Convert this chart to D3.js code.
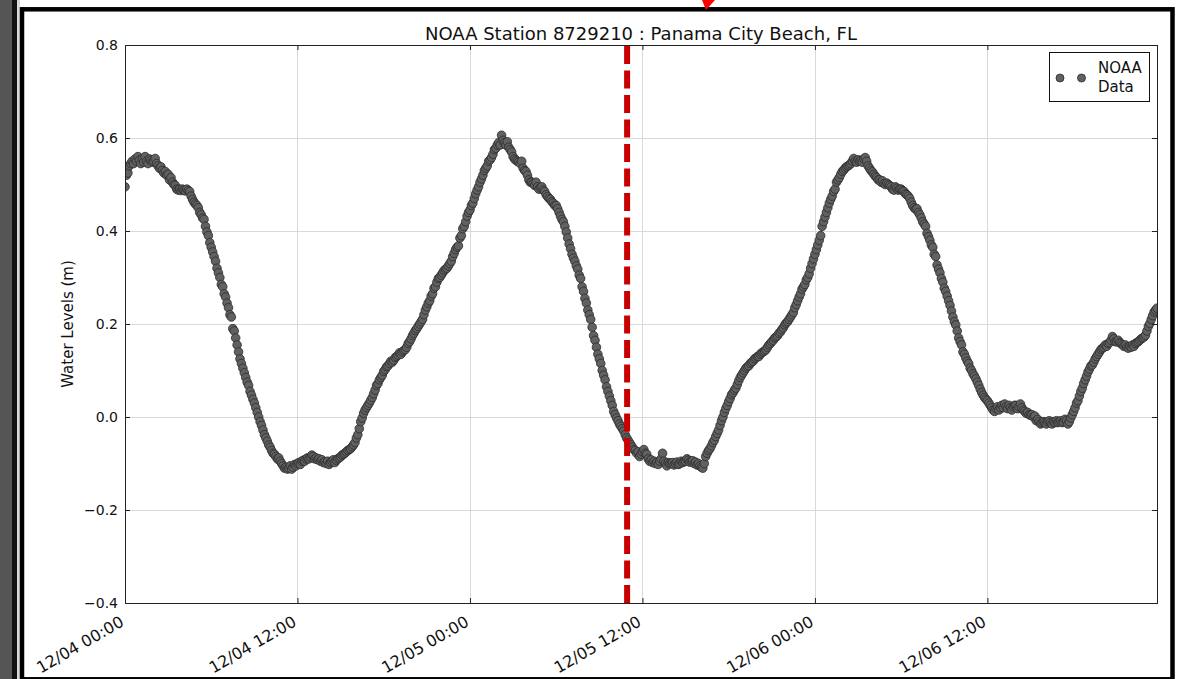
<!DOCTYPE html>
<html>
<head>
<meta charset="utf-8">
<script src="https://d3js.org/d3.v7.min.js"></script>
<style>
  body { margin: 0; background: #fff; }
  svg { display: block; font-family: "DejaVu Sans", sans-serif; }
</style>
</head>
<body>
<svg id="chart"></svg>
<script>
var title = "NOAA Station 8729210 : Panama City Beach, FL";
var yLabel = "Water Levels (m)";
var legendLines = ["NOAA", "Data"];

var startTime = new Date(2016, 11, 4, 0, 0);
var stepMinutes = 6;
var markerTime = new Date(2016, 11, 5, 10, 56);

var xTickTimes = [
  new Date(2016, 11, 4, 0), new Date(2016, 11, 4, 12),
  new Date(2016, 11, 5, 0), new Date(2016, 11, 5, 12),
  new Date(2016, 11, 6, 0), new Date(2016, 11, 6, 12)
];
var xTickLabels = ["12/04 00:00", "12/04 12:00", "12/05 00:00", "12/05 12:00", "12/06 00:00", "12/06 12:00"];
var yTicks = [-0.4, -0.2, 0.0, 0.2, 0.4, 0.6, 0.8];

// 6-minute water levels (m), one row per hour
var waterLevels = [
  0.495, 0.52, 0.525, 0.54, 0.545, 0.55, 0.545, 0.555, 0.55, 0.56,
  0.552, 0.545, 0.555, 0.548, 0.56, 0.55, 0.545, 0.555, 0.552, 0.548,
  0.55, 0.556, 0.545, 0.54, 0.535, 0.538, 0.53, 0.525, 0.528, 0.52,
  0.522, 0.51, 0.515, 0.505, 0.50, 0.498, 0.49, 0.488, 0.49, 0.487,
  0.49, 0.488, 0.486, 0.49, 0.487, 0.485, 0.475, 0.468, 0.462, 0.458,
  0.455, 0.45, 0.44, 0.435, 0.428, 0.425, 0.41, 0.398, 0.39, 0.375,
  0.365, 0.355, 0.345, 0.335, 0.32, 0.31, 0.30, 0.285, 0.28, 0.265,
  0.258, 0.245, 0.235, 0.22, 0.215, 0.19, 0.185, 0.17, 0.155, 0.14,
  0.125, 0.115, 0.105, 0.095, 0.085, 0.075, 0.068, 0.055, 0.047, 0.038,
  0.03, 0.02, 0.01, 0.0, -0.01, -0.018, -0.028, -0.038, -0.045, -0.052,
  -0.06, -0.065, -0.072, -0.078, -0.08, -0.085, -0.09, -0.088, -0.095, -0.10,
  -0.105, -0.11, -0.108, -0.112, -0.11, -0.105, -0.112, -0.108, -0.102, -0.105,
  -0.10, -0.098, -0.102, -0.095, -0.093, -0.095, -0.09, -0.088, -0.09, -0.086,
  -0.082, -0.085, -0.09, -0.088, -0.092, -0.09, -0.095, -0.092, -0.098, -0.096,
  -0.10, -0.095, -0.102, -0.098, -0.095, -0.092, -0.098, -0.093, -0.09, -0.088,
  -0.086, -0.082, -0.08, -0.078, -0.075, -0.072, -0.07, -0.068, -0.064, -0.06,
  -0.055, -0.045, -0.038, -0.025, -0.01, -0.002, 0.008, 0.015, 0.02, 0.025,
  0.03, 0.036, 0.042, 0.05, 0.058, 0.068, 0.072, 0.08, 0.085, 0.09,
  0.098, 0.102, 0.108, 0.11, 0.115, 0.12, 0.118, 0.122, 0.128, 0.13,
  0.133, 0.138, 0.135, 0.14, 0.143, 0.145, 0.15, 0.158, 0.162, 0.168,
  0.175, 0.18, 0.186, 0.19, 0.195, 0.2, 0.205, 0.21, 0.22, 0.23,
  0.237, 0.245, 0.25, 0.26, 0.265, 0.277, 0.28, 0.29, 0.298, 0.30,
  0.305, 0.31, 0.315, 0.318, 0.32, 0.325, 0.33, 0.335, 0.345, 0.352,
  0.36, 0.365, 0.368, 0.385, 0.39, 0.405, 0.41, 0.42, 0.432, 0.44,
  0.445, 0.455, 0.46, 0.47, 0.48, 0.488, 0.495, 0.505, 0.512, 0.52,
  0.53, 0.535, 0.54, 0.55, 0.553, 0.558, 0.565, 0.575, 0.578, 0.585,
  0.59, 0.585, 0.606, 0.595, 0.59, 0.585, 0.592, 0.58, 0.575, 0.57,
  0.56, 0.555, 0.552, 0.55, 0.548, 0.545, 0.55, 0.535, 0.53, 0.528,
  0.52, 0.51, 0.505, 0.505, 0.502, 0.498, 0.505, 0.495, 0.49, 0.493,
  0.495, 0.488, 0.485, 0.478, 0.474, 0.47, 0.468, 0.463, 0.46, 0.455,
  0.455, 0.448, 0.44, 0.432, 0.425, 0.42, 0.41, 0.398, 0.385, 0.372,
  0.362, 0.35, 0.342, 0.335, 0.325, 0.318, 0.305, 0.298, 0.28, 0.27,
  0.255, 0.245, 0.23, 0.22, 0.21, 0.193, 0.175, 0.165, 0.15, 0.135,
  0.125, 0.115, 0.10, 0.09, 0.08, 0.065, 0.055, 0.045, 0.035, 0.025,
  0.012, 0.005, -0.002, -0.008, -0.015, -0.02, -0.025, -0.03, -0.038, -0.045,
  -0.05, -0.055, -0.06, -0.065, -0.07, -0.072, -0.078, -0.075, -0.085, -0.08,
  -0.075, -0.07, -0.078, -0.08, -0.09, -0.095, -0.092, -0.098, -0.095, -0.10,
  -0.097, -0.102, -0.095, -0.09, -0.078, -0.095, -0.10, -0.105, -0.098, -0.10,
  -0.10, -0.098, -0.103, -0.10, -0.097, -0.102, -0.10, -0.095, -0.098, -0.096,
  -0.095, -0.09, -0.093, -0.097, -0.095, -0.094, -0.10, -0.097, -0.103, -0.10,
  -0.105, -0.108, -0.11, -0.10, -0.085, -0.078, -0.072, -0.068, -0.062, -0.055,
  -0.05, -0.042, -0.035, -0.028, -0.018, -0.008, 0.0, 0.01, 0.018, 0.025,
  0.033, 0.04, 0.048, 0.052, 0.058, 0.062, 0.07, 0.078, 0.085, 0.09,
  0.095, 0.10, 0.105, 0.108, 0.11, 0.115, 0.118, 0.12, 0.125, 0.127,
  0.13, 0.13, 0.135, 0.138, 0.14, 0.142, 0.145, 0.15, 0.155, 0.158,
  0.162, 0.165, 0.17, 0.172, 0.175, 0.18, 0.183, 0.188, 0.192, 0.198,
  0.202, 0.205, 0.21, 0.215, 0.22, 0.225, 0.235, 0.242, 0.25, 0.258,
  0.265, 0.275, 0.28, 0.285, 0.295, 0.30, 0.308, 0.32, 0.33, 0.34,
  0.35, 0.36, 0.37, 0.38, 0.39, 0.41, 0.42, 0.43, 0.44, 0.45,
  0.46, 0.468, 0.475, 0.485, 0.49, 0.505, 0.51, 0.515, 0.522, 0.528,
  0.531, 0.535, 0.538, 0.54, 0.542, 0.545, 0.55, 0.556, 0.55, 0.548,
  0.553, 0.55, 0.552, 0.548, 0.555, 0.558, 0.55, 0.54, 0.535, 0.53,
  0.527, 0.522, 0.518, 0.515, 0.51, 0.51, 0.505, 0.508, 0.502, 0.50,
  0.503, 0.50, 0.498, 0.495, 0.49, 0.488, 0.495, 0.492, 0.488, 0.49,
  0.49, 0.487, 0.485, 0.48, 0.478, 0.475, 0.47, 0.462, 0.455, 0.45,
  0.447, 0.448, 0.44, 0.435, 0.428, 0.42, 0.415, 0.41, 0.395, 0.388,
  0.38, 0.37, 0.365, 0.35, 0.345, 0.327, 0.318, 0.31, 0.298, 0.29,
  0.277, 0.27, 0.26, 0.25, 0.24, 0.228, 0.215, 0.205, 0.198, 0.185,
  0.17, 0.162, 0.155, 0.14, 0.135, 0.127, 0.12, 0.115, 0.105, 0.10,
  0.093, 0.088, 0.082, 0.075, 0.068, 0.06, 0.053, 0.047, 0.042, 0.038,
  0.035, 0.03, 0.025, 0.02, 0.015, 0.012, 0.018, 0.022, 0.015, 0.02,
  0.025, 0.02, 0.028, 0.022, 0.018, 0.025, 0.02, 0.015, 0.022, 0.025,
  0.025, 0.018, 0.022, 0.028, 0.02, 0.015, 0.012, 0.008, 0.01, 0.005,
  0.004, 0.005, 0.0, 0.002, -0.008, -0.005, -0.01, -0.015, -0.012, -0.01,
  -0.012, -0.015, -0.01, -0.008, -0.012, -0.015, -0.01, -0.012, -0.008, -0.012,
  -0.01, -0.008, -0.012, -0.01, -0.005, -0.008, -0.015, -0.01, -0.002, 0.005,
  0.012, 0.02, 0.03, 0.035, 0.045, 0.055, 0.062, 0.072, 0.08, 0.088,
  0.097, 0.103, 0.11, 0.112, 0.118, 0.125, 0.13, 0.135, 0.14, 0.145,
  0.148, 0.15, 0.155, 0.152, 0.158, 0.16, 0.165, 0.173, 0.168, 0.162,
  0.162, 0.165, 0.16, 0.158, 0.155, 0.152, 0.155, 0.15, 0.148, 0.152,
  0.15, 0.155, 0.152, 0.158, 0.16, 0.162, 0.165, 0.168, 0.17, 0.172,
  0.176, 0.185, 0.195, 0.201, 0.21, 0.218, 0.226, 0.23, 0.234
];

var data = waterLevels.map(function (v, i) {
  return { time: d3.timeMinute.offset(startTime, i * stepMinutes), level: v };
});

var W = 1189, H = 679;
var margin = { top: 45, right: 32, bottom: 76, left: 125 };
var width = W - margin.left - margin.right,
    height = H - margin.top - margin.bottom;

var svg = d3.select("#chart")
    .attr("width", W)
    .attr("height", H);

// scanned-page surroundings
svg.append("rect").attr("x", 0).attr("y", 0).attr("width", 12).attr("height", H).attr("fill", "#555");
svg.append("rect").attr("x", 12).attr("y", 0).attr("width", 5).attr("height", H).attr("fill", "#111");
svg.append("rect").attr("x", 17).attr("y", 0).attr("width", 3).attr("height", H).attr("fill", "#d8d8d8");
svg.append("rect")
    .attr("x", 22).attr("y", 9.3)
    .attr("width", 1150.5).attr("height", 670)
    .attr("fill", "#fff")
    .attr("stroke", "#000")
    .attr("stroke-width", 4.5);
svg.append("path")
    .attr("d", "M702,0 L715,0 L706,10 Z")
    .attr("fill", "#f00");

var x = d3.scaleTime()
    .domain([data[0].time, data[data.length - 1].time])
    .range([0, width]);

var y = d3.scaleLinear()
    .domain([-0.4, 0.8])
    .range([height, 0]);

var g = svg.append("g")
    .attr("transform", "translate(" + margin.left + "," + margin.top + ")");

g.append("defs").append("clipPath").attr("id", "plot-clip")
    .append("rect").attr("width", width).attr("height", height);

// grid
g.append("g")
    .attr("class", "grid")
    .selectAll("line.gx")
    .data(xTickTimes)
    .enter()
    .append("line")
    .attr("x1", d => Math.round(x(d)) + 0.5)
    .attr("x2", d => Math.round(x(d)) + 0.5)
    .attr("y1", 0)
    .attr("y2", height)
    .attr("stroke", "#d9d9d9");

g.append("g")
    .attr("class", "grid")
    .selectAll("line.gy")
    .data(yTicks)
    .enter()
    .append("line")
    .attr("x1", 0)
    .attr("x2", width)
    .attr("y1", d => Math.round(y(d)) + 0.5)
    .attr("y2", d => Math.round(y(d)) + 0.5)
    .attr("stroke", "#d9d9d9");

// points
g.append("g")
    .attr("clip-path", "url(#plot-clip)")
    .selectAll("circle")
    .data(data)
    .enter()
    .append("circle")
    .attr("cx", d => x(d.time))
    .attr("cy", d => y(d.level))
    .attr("r", 4.3)
    .attr("fill", "#616161")
    .attr("stroke", "#2b2b2b")
    .attr("stroke-width", 0.8);

// red marker line
g.append("line")
    .attr("x1", x(markerTime))
    .attr("x2", x(markerTime))
    .attr("y1", height)
    .attr("y2", 0)
    .attr("stroke", "#c80000")
    .attr("stroke-width", 6)
    .attr("stroke-dasharray", "18,6.5");

// axes
var xAxis = d3.axisBottom(x)
    .tickValues(xTickTimes)
    .tickSizeInner(-5)
    .tickSizeOuter(0)
    .tickFormat((d, i) => xTickLabels[i]);

var yAxis = d3.axisLeft(y)
    .tickValues(yTicks)
    .tickSizeInner(-5)
    .tickSizeOuter(0)
    .tickPadding(7)
    .tickFormat(d3.format(".1f"));

var xg = g.append("g")
    .attr("transform", "translate(0," + height + ")")
    .call(xAxis);
xg.selectAll("text")
    .attr("x", -0.5)
    .attr("y", 22)
    .attr("dy", 0)
    .attr("text-anchor", "end")
    .attr("transform", "rotate(-30,-0.5,22)")
    .attr("font-size", "16px");

var yg = g.append("g").call(yAxis);
yg.selectAll("text").attr("font-size", "14px");

g.append("g")
    .call(d3.axisTop(x).tickValues(xTickTimes).tickSizeInner(-5).tickSizeOuter(0).tickFormat(""));
g.append("g")
    .attr("transform", "translate(" + width + ",0)")
    .call(d3.axisRight(y).tickValues(yTicks).tickSizeInner(-5).tickSizeOuter(0).tickFormat(""));

g.selectAll(".domain").remove();
g.selectAll(".tick line").attr("stroke", "#222");
g.selectAll(".tick text").attr("fill", "#111").attr("font-family", "DejaVu Sans");

g.append("rect")
    .attr("x", 0.5).attr("y", 0.5)
    .attr("width", width).attr("height", height)
    .attr("fill", "none")
    .attr("stroke", "#222");

// title and y label
g.append("text")
    .attr("x", width / 2)
    .attr("y", -5.5)
    .attr("text-anchor", "middle")
    .attr("font-size", "18px")
    .attr("fill", "#111")
    .text(title);

g.append("text")
    .attr("transform", "rotate(-90)")
    .attr("x", -height / 2)
    .attr("y", -52)
    .attr("text-anchor", "middle")
    .attr("font-size", "15px")
    .attr("fill", "#111")
    .text(yLabel);

// legend
var legend = g.append("g")
    .attr("transform", "translate(" + (width - 108) + ",7)");
legend.append("rect")
    .attr("x", 0.5).attr("y", 0.5)
    .attr("width", 100).attr("height", 49)
    .attr("fill", "#fff")
    .attr("stroke", "#111");
legend.selectAll("circle")
    .data([11, 32.5])
    .enter()
    .append("circle")
    .attr("cx", d => d)
    .attr("cy", 26)
    .attr("r", 4)
    .attr("fill", "#616161")
    .attr("stroke", "#2b2b2b")
    .attr("stroke-width", 0.8);
legend.selectAll("text")
    .data(legendLines)
    .enter()
    .append("text")
    .attr("x", 49)
    .attr("y", (d, i) => 21 + i * 19)
    .attr("font-size", "15px")
    .attr("fill", "#111")
    .text(d => d);
</script>
</body>
</html>
